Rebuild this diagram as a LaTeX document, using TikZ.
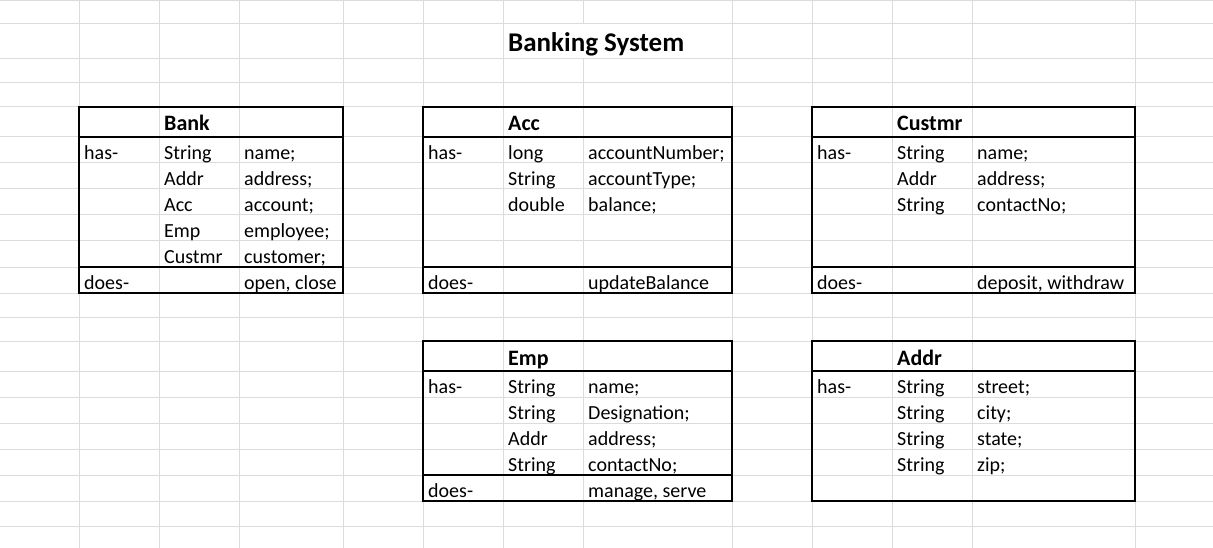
\documentclass[tikz,border=0pt]{standalone}
\usepackage{fontspec}
\setmainfont{Carlito}
\definecolor{gridgray}{HTML}{DADCDD}
\begin{document}
\begin{tikzpicture}[x=1pt,y=-1pt,
  gridline/.style={draw=gridgray, line width=1pt},
  tbl/.style={draw=black, line width=1.3pt},
  txt/.style={anchor=base west, inner sep=0pt, font=\fontsize{20}{24}\selectfont},
  hdr/.style={anchor=base west, inner sep=0pt, font=\fontsize{22}{26}\selectfont\bfseries},
  ttl/.style={anchor=base west, inner sep=0pt, font=\fontsize{27}{32}\selectfont\bfseries}]
\useasboundingbox (0,0) rectangle (1213,548);
\fill[white] (0,0) rectangle (1213,548);
% grid
\foreach \yy in {0.5,24,59,83,107,137,163,189,215,241,267,293,317,341,371,397,423,449,475,501,526}
  \draw[gridline] (0,\yy) -- (1213,\yy);
\foreach \xx in {79,159,239,343,423,503,732,812,892,972,1135}
  \draw[gridline] (\xx,0) -- (\xx,548);
\draw[gridline] (583,0) -- (583,24) (583,59) -- (583,548);
% title
\node[ttl] (title) at (508,52) {Banking System};
% Bank table
\draw[tbl] (79,107) rectangle (343,293);
\draw[tbl] (79,137) -- (343,137) (79,267) -- (343,267);
\node[hdr] (bankh) at (164,131) {Bank};
\node[txt] (bank1) at (84,159.5) {has-};
\node[txt] (bank2) at (164,159.5) {String};
\node[txt] (bank3) at (244,159.5) {name;};
\node[txt] (bank4) at (164,185.5) {Addr};
\node[txt] (bank5) at (244,185.5) {address;};
\node[txt] (bank6) at (164,211.5) {Acc};
\node[txt] (bank7) at (244,211.5) {account;};
\node[txt] (bank8) at (164,237.5) {Emp};
\node[txt] (bank9) at (244,237.5) {employee;};
\node[txt] (bank10) at (164,263.5) {Custmr};
\node[txt] (bank11) at (244,263.5) {customer;};
\node[txt] (bank12) at (84,289.5) {does-};
\node[txt] (bank13) at (244,289.5) {open, close};
% Acc table
\draw[tbl] (423,107) rectangle (732,293);
\draw[tbl] (423,137) -- (732,137) (423,267) -- (732,267);
\node[hdr] (acch) at (508,131) {Acc};
\node[txt] (acc1) at (428,159.5) {has-};
\node[txt] (acc2) at (508,159.5) {long};
\node[txt] (acc3) at (588,159.5) {accountNumber;};
\node[txt] (acc4) at (508,185.5) {String};
\node[txt] (acc5) at (588,185.5) {accountType;};
\node[txt] (acc6) at (508,211.5) {double};
\node[txt] (acc7) at (588,211.5) {balance;};
\node[txt] (acc8) at (428,289.5) {does-};
\node[txt] (acc9) at (588,289.5) {updateBalance};
% Custmr table
\draw[tbl] (812,107) rectangle (1135,293);
\draw[tbl] (812,137) -- (1135,137) (812,267) -- (1135,267);
\node[hdr] (custh) at (897,131) {Custmr};
\node[txt] (cust1) at (817,159.5) {has-};
\node[txt] (cust2) at (897,159.5) {String};
\node[txt] (cust3) at (977,159.5) {name;};
\node[txt] (cust4) at (897,185.5) {Addr};
\node[txt] (cust5) at (977,185.5) {address;};
\node[txt] (cust6) at (897,211.5) {String};
\node[txt] (cust7) at (977,211.5) {contactNo;};
\node[txt] (cust8) at (817,289.5) {does-};
\node[txt] (cust9) at (977,289.5) {deposit, withdraw};
% Emp table
\draw[tbl] (423,341) rectangle (732,501);
\draw[tbl] (423,371) -- (732,371) (423,475) -- (732,475);
\node[hdr] (emph) at (508,365) {Emp};
\node[txt] (emp1) at (428,393.5) {has-};
\node[txt] (emp2) at (508,393.5) {String};
\node[txt] (emp3) at (588,393.5) {name;};
\node[txt] (emp4) at (508,419.5) {String};
\node[txt] (emp5) at (588,419.5) {Designation;};
\node[txt] (emp6) at (508,445.5) {Addr};
\node[txt] (emp7) at (588,445.5) {address;};
\node[txt] (emp8) at (508,471.5) {String};
\node[txt] (emp9) at (588,471.5) {contactNo;};
\node[txt] (emp10) at (428,497.5) {does-};
\node[txt] (emp11) at (588,497.5) {manage, serve};
% Addr table
\draw[tbl] (812,341) rectangle (1135,501);
\draw[tbl] (812,371) -- (1135,371);
\node[hdr] (addrh) at (897,365) {Addr};
\node[txt] (addr1) at (817,393.5) {has-};
\node[txt] (addr2) at (897,393.5) {String};
\node[txt] (addr3) at (977,393.5) {street;};
\node[txt] (addr4) at (897,419.5) {String};
\node[txt] (addr5) at (977,419.5) {city;};
\node[txt] (addr6) at (897,445.5) {String};
\node[txt] (addr7) at (977,445.5) {state;};
\node[txt] (addr8) at (897,471.5) {String};
\node[txt] (addr9) at (977,471.5) {zip;};
\end{tikzpicture}
\end{document}
